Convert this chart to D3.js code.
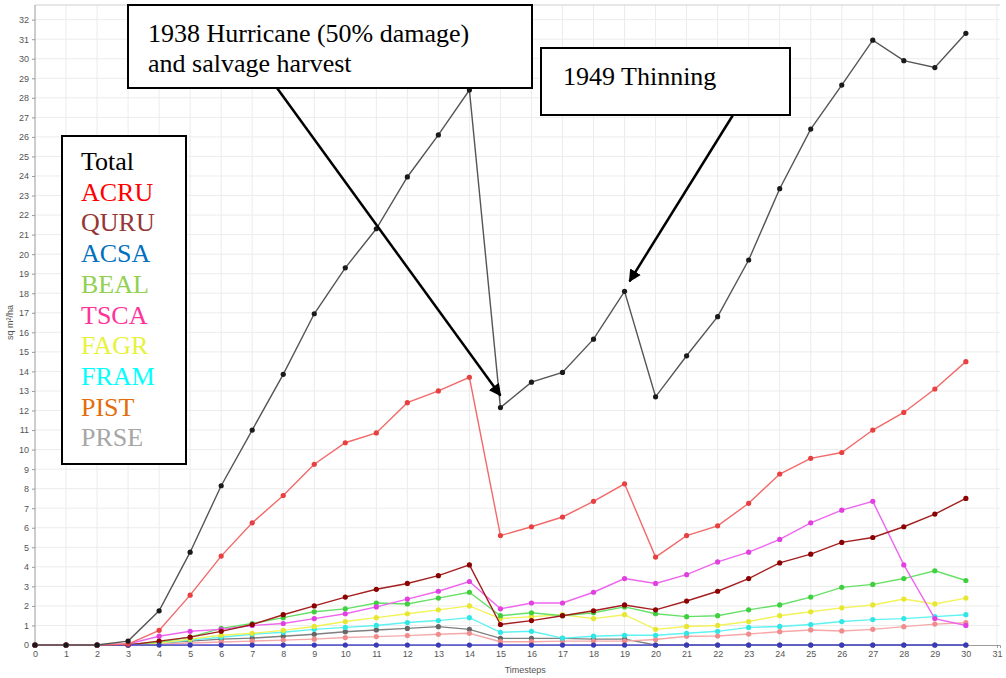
<!DOCTYPE html>
<html>
<head>
<meta charset="utf-8">
<script src="https://cdn.jsdelivr.net/npm/d3@7"></script>
<style>
  body { margin: 0; background: #fff; }
  svg { display: block; }
</style>
</head>
<body>
<script>
// timesteps 0..30
var steps = d3.range(0, 31);

// basal area (sq m/ha) per species
var total = [0, 0, 0, 0.2, 1.75, 4.75, 8.15, 11.0, 13.85, 16.95, 19.3, 21.3, 23.95, 26.1, 28.4,
             12.15, 13.45, 13.95, 15.65, 18.1, 12.7, 14.8, 16.8, 19.7, 23.35, 26.4, 28.65, 30.95, 29.9, 29.55, 31.3];
var acru = [0, 0, 0, 0.05, 0.75, 2.55, 4.55, 6.25, 7.65, 9.25, 10.35, 10.85, 12.4, 13.0, 13.7,
            5.6, 6.05, 6.55, 7.35, 8.25, 4.5, 5.6, 6.1, 7.25, 8.75, 9.55, 9.85, 11.0, 11.9, 13.1, 14.5];
var quru = [0, 0, 0, 0, 0.2, 0.4, 0.7, 1.05, 1.55, 2.0, 2.45, 2.85, 3.15, 3.55, 4.1,
            1.05, 1.25, 1.5, 1.75, 2.05, 1.8, 2.25, 2.75, 3.4, 4.2, 4.65, 5.25, 5.5, 6.05, 6.7, 7.5];
var acsa = [0, 0, 0, 0, 0, 0, 0, 0, 0, 0, 0, 0, 0, 0, 0,
            0, 0, 0, 0, 0, 0, 0, 0, 0, 0, 0, 0, 0, 0, 0, 0];
var beal = [0, 0, 0, 0.02, 0.15, 0.4, 0.85, 1.1, 1.4, 1.7, 1.85, 2.15, 2.1, 2.4, 2.7,
            1.5, 1.65, 1.5, 1.65, 1.95, 1.6, 1.45, 1.5, 1.8, 2.05, 2.45, 2.95, 3.1, 3.4, 3.8, 3.3];
var tsca = [0, 0, 0, 0.05, 0.45, 0.7, 0.8, 1.0, 1.1, 1.35, 1.6, 1.95, 2.35, 2.75, 3.25,
            1.85, 2.15, 2.15, 2.7, 3.4, 3.15, 3.6, 4.25, 4.75, 5.4, 6.25, 6.9, 7.35, 4.1, 1.35, 1.0];
var fagr = [0, 0, 0, 0.02, 0.1, 0.3, 0.5, 0.6, 0.75, 0.95, 1.2, 1.4, 1.6, 1.8, 2.0,
            1.35, 1.45, 1.55, 1.35, 1.55, 0.8, 0.95, 1.0, 1.2, 1.5, 1.7, 1.9, 2.05, 2.35, 2.1, 2.4];
var fram = [0, 0, 0, 0.01, 0.1, 0.25, 0.4, 0.55, 0.65, 0.8, 0.9, 1.0, 1.15, 1.25, 1.4,
            0.65, 0.7, 0.35, 0.45, 0.5, 0.5, 0.6, 0.7, 0.9, 0.95, 1.05, 1.2, 1.3, 1.35, 1.45, 1.55];
var pist = [0, 0, 0, 0.01, 0.05, 0.1, 0.15, 0.2, 0.25, 0.3, 0.38, 0.43, 0.48, 0.55, 0.6,
            0.17, 0.17, 0.2, 0.2, 0.2, 0.28, 0.45, 0.46, 0.56, 0.68, 0.77, 0.72, 0.8, 0.94, 1.07, 1.14];
var prse = [0, 0, 0, 0.02, 0.1, 0.2, 0.3, 0.35, 0.45, 0.55, 0.68, 0.77, 0.85, 0.94, 0.8,
            0.34, 0.34, 0.34, 0.3, 0.3, 0, 0, 0, 0, 0, 0, 0, 0, 0, 0, 0];

var legendNames = ["Total", "ACRU", "QURU", "ACSA", "BEAL", "TSCA", "FAGR", "FRAM", "PIST", "PRSE"];
var legendColors = ["#000000", "#ff0000", "#953735", "#0070c0", "#92d050", "#ff3399", "#e8f23a", "#00ffff", "#e46c0a", "#a6a6a6"];

var yTicks = d3.range(0, 33);
var xTicks = d3.range(0, 32);

// draw order: lowest first, total on top
var series = [
  {values: prse,  line: "#808080", dot: "#666666"},
  {values: pist,  line: "#f6a8a8", dot: "#f08c8c"},
  {values: fram,  line: "#5ff2f2", dot: "#33e6e6"},
  {values: fagr,  line: "#f2f25a", dot: "#e6e633"},
  {values: beal,  line: "#66e066", dot: "#3fcf3f"},
  {values: tsca,  line: "#ee66ee", dot: "#e040e0"},
  {values: quru,  line: "#a31f1f", dot: "#8b0000"},
  {values: acsa,  line: "#5050d0", dot: "#3a3ab8"},
  {values: acru,  line: "#f26a6a", dot: "#e84040"},
  {values: total, line: "#555555", dot: "#1a1a1a"}
];

var W = 1006, H = 678;
var svg = d3.select("body").append("svg")
    .attr("width", W)
    .attr("height", H);

var x = d3.scaleLinear().domain([0, 31.1]).range([35, 1000]);
var y = d3.scaleLinear().domain([0, 32.75]).range([645, 5]);

// grid
svg.append("g").selectAll("line")
    .data(yTicks.slice(1))
    .enter().append("line")
    .attr("x1", x(0)).attr("x2", x(31.1))
    .attr("y1", function(d) { return y(d); })
    .attr("y2", function(d) { return y(d); })
    .attr("stroke", "#ececec");

svg.append("g").selectAll("line")
    .data(xTicks.slice(1))
    .enter().append("line")
    .attr("x1", function(d) { return x(d); })
    .attr("x2", function(d) { return x(d); })
    .attr("y1", y(0)).attr("y2", y(32.75))
    .attr("stroke", "#ececec");

// frame top
svg.append("line")
    .attr("x1", x(0)).attr("x2", x(31.1))
    .attr("y1", y(32.75)).attr("y2", y(32.75))
    .attr("stroke", "#cfcfcf");

// axes
var yAxis = svg.append("g")
    .attr("transform", "translate(" + x(0) + ",0)")
    .call(d3.axisLeft(y).tickValues(yTicks).tickSize(3).tickFormat(d3.format("d")));
var xAxis = svg.append("g")
    .attr("transform", "translate(0," + y(0) + ")")
    .call(d3.axisBottom(x).tickValues(xTicks).tickSize(3).tickFormat(d3.format("d")));

[xAxis, yAxis].forEach(function(a) {
  a.selectAll("path").attr("stroke", "#9a9a9a");
  a.selectAll("line").attr("stroke", "#9a9a9a");
  a.selectAll("text")
    .attr("fill", "#555")
    .style("font-family", "Liberation Sans, Arial, sans-serif")
    .style("font-size", "9px");
});
yAxis.select(".domain").attr("d", "M0," + y(32.75) + "V" + y(0));

svg.append("text")
    .attr("transform", "translate(13," + y(16.5) + ") rotate(-90)")
    .attr("text-anchor", "middle")
    .attr("fill", "#555")
    .style("font-family", "Liberation Sans, Arial, sans-serif")
    .style("font-size", "9px")
    .text("sq m²/ha");

svg.append("text")
    .attr("x", x(15.8)).attr("y", 673)
    .attr("text-anchor", "middle")
    .attr("fill", "#555")
    .style("font-family", "Liberation Sans, Arial, sans-serif")
    .style("font-size", "9px")
    .text("Timesteps");

// lines and dots
var line = d3.line()
    .x(function(d, i) { return x(steps[i]); })
    .y(function(d) { return y(d); });

series.forEach(function(s) {
  svg.append("path")
      .datum(s.values)
      .attr("fill", "none")
      .attr("stroke", s.line)
      .attr("stroke-width", 1.4)
      .attr("d", line);
  svg.append("g").selectAll("circle")
      .data(s.values)
      .enter().append("circle")
      .attr("cx", function(d, i) { return x(steps[i]); })
      .attr("cy", function(d) { return y(d); })
      .attr("r", 2.6)
      .attr("fill", s.dot);
});

// legend box
var serif = "Liberation Serif, Times New Roman, serif";
var legend = svg.append("g");
legend.append("rect")
    .attr("x", 62).attr("y", 136)
    .attr("width", 124).attr("height", 328)
    .attr("fill", "#fff")
    .attr("stroke", "#000")
    .attr("stroke-width", 2);
legend.selectAll("text")
    .data(legendNames)
    .enter().append("text")
    .attr("x", 81)
    .attr("y", function(d, i) { return 170 + i * 30.7; })
    .attr("fill", function(d, i) { return legendColors[i]; })
    .style("font-family", serif)
    .style("font-size", "26px")
    .text(function(d) { return d; });

// annotations
var notes = svg.append("g");
notes.append("rect")
    .attr("x", 128).attr("y", 5).attr("width", 404).attr("height", 83)
    .attr("fill", "#fff").attr("stroke", "#000").attr("stroke-width", 2);
notes.append("text")
    .attr("x", 148).attr("y", 42)
    .style("font-family", serif).style("font-size", "26px")
    .text("1938 Hurricane (50% damage)");
notes.append("text")
    .attr("x", 148).attr("y", 72)
    .style("font-family", serif).style("font-size", "26px")
    .text("and salvage harvest");

notes.append("rect")
    .attr("x", 541).attr("y", 48).attr("width", 249).attr("height", 67)
    .attr("fill", "#fff").attr("stroke", "#000").attr("stroke-width", 2);
notes.append("text")
    .attr("x", 563).attr("y", 85)
    .style("font-family", serif).style("font-size", "26px")
    .text("1949 Thinning");

svg.append("defs").append("marker")
    .attr("id", "head")
    .attr("viewBox", "0 0 10 10")
    .attr("refX", 9).attr("refY", 5)
    .attr("markerWidth", 5).attr("markerHeight", 5)
    .attr("orient", "auto")
    .append("path")
    .attr("d", "M0,0L10,5L0,10Z")
    .attr("fill", "#000");

notes.append("line")
    .attr("x1", 277).attr("y1", 88)
    .attr("x2", x(15)).attr("y2", y(12.15) - 12)
    .attr("stroke", "#000").attr("stroke-width", 2.5)
    .attr("marker-end", "url(#head)");
notes.append("line")
    .attr("x1", 733).attr("y1", 115)
    .attr("x2", x(19) + 5).attr("y2", y(18.1) - 10)
    .attr("stroke", "#000").attr("stroke-width", 2.5)
    .attr("marker-end", "url(#head)");
</script>
</body>
</html>
